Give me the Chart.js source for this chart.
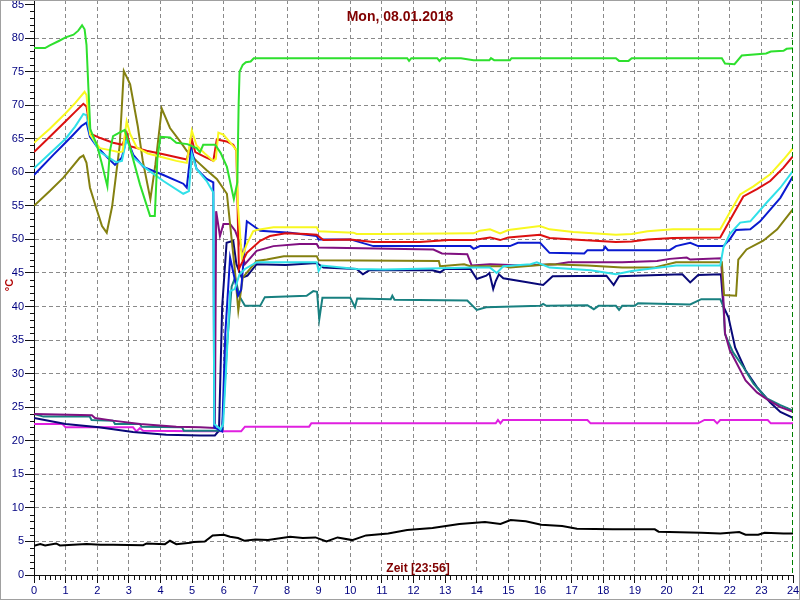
<!DOCTYPE html>
<html>
<head>
<meta charset="utf-8">
<script src="https://cdn.jsdelivr.net/npm/chart.js@4.4.1/dist/chart.umd.min.js"></script>
<style>
    html, body { margin: 0; padding: 0; background: #fff; }
</style>
</head>
<body>
<canvas id="tempChart" width="800" height="600"></canvas>
<script>
const chartTitle = 'Mon, 08.01.2018'
const xTitle = 'Zeit [23:56]'
const yTitle = '°C'
const hourTicks = [0, 1, 2, 3, 4, 5, 6, 7, 8, 9, 10, 11, 12, 13, 14, 15, 16, 17, 18, 19, 20, 21, 22, 23, 24]
const tempTicks = [0, 5, 10, 15, 20, 25, 30, 35, 40, 45, 50, 55, 60, 65, 70, 75, 80, 85]
const nowHour = 24

// [Stunde, °C]
const lime = [[0,78.5],[0.35,78.5],[0.5,78.9],[0.8,79.6],[1.0,80.1],[1.25,80.5],[1.4,81.1],[1.52,81.9],[1.6,81.3],[1.66,79],[1.72,72.6],[1.78,66.4],[1.98,64.2],[2.14,61.4],[2.32,57.9],[2.4,63.2],[2.5,65.4],[2.7,65.9],[2.87,66.3],[3.04,63.6],[3.35,58.2],[3.67,53.5],[3.82,53.5],[3.9,62],[4.0,65.3],[4.3,65.2],[4.5,64.4],[4.85,64.2],[5.14,63.6],[5.25,63],[5.35,64.1],[5.73,64.1],[5.9,62.9],[6.1,60.8],[6.32,56],[6.43,58.5],[6.47,70],[6.5,75],[6.6,76],[6.7,76.4],[6.85,76.5],[6.95,77],[11.8,77],[11.86,76.6],[11.93,77],[12.75,77],[12.82,76.6],[12.9,77],[13.5,77],[13.9,76.7],[14.4,76.7],[14.45,77],[14.55,76.7],[15.05,76.7],[15.1,77],[18.4,77],[18.5,76.6],[18.8,76.6],[18.9,77],[21.75,77],[21.85,76.2],[22.15,76.1],[22.38,77.4],[23.15,77.7],[23.3,78],[23.7,78.1],[23.8,78.4],[24,78.5]]
const yellow = [[0,64.4],[0.5,66.5],[1.0,68.8],[1.3,70.3],[1.6,72],[1.66,71.5],[1.78,65.6],[2.08,63.6],[2.4,63.3],[2.7,63],[2.8,63.1],[2.93,67.6],[3.04,65.7],[3.25,63.7],[3.6,62.8],[4.09,62.2],[4.5,61.7],[4.83,61.4],[4.99,66.2],[5.14,64],[5.4,62.8],[5.67,61.7],[5.75,62],[5.83,65.9],[5.99,65.6],[6.3,63.9],[6.4,63.3],[6.45,55],[6.57,47.3],[6.73,49.3],[6.93,51.2],[7.04,51.4],[7.57,51.8],[8.94,51.8],[9.0,51.2],[10.1,51],[10.2,50.8],[11.05,50.8],[13.9,50.9],[14.1,51.3],[14.42,51.5],[14.74,50.9],[15.0,51.4],[16.0,52],[16.3,51.5],[17.05,51.1],[18.4,50.7],[18.9,50.8],[19.4,51.2],[20.2,51.5],[21.7,51.5],[22.0,54],[22.33,56.7],[22.75,57.9],[23.28,59.7],[23.7,61.9],[24,63.6]]
const red = [[0,63],[0.5,65.3],[1.0,67.6],[1.3,69],[1.56,70.2],[1.66,69.8],[1.8,65.7],[2.1,65.1],[2.5,64.4],[2.8,64.1],[2.93,65.9],[3.04,63.9],[3.56,63.2],[4.09,62.7],[4.83,61.9],[4.99,64.9],[5.1,63],[5.4,62.3],[5.67,61.7],[5.78,64.9],[6.09,64.6],[6.3,64.1],[6.4,63.2],[6.45,52],[6.48,45.6],[6.73,48],[7.15,49.8],[7.46,50.5],[7.96,50.9],[8.6,50.8],[8.94,50.7],[9.15,49.9],[10.0,50],[10.73,49.6],[12.2,49.6],[13.1,49.9],[13.9,49.9],[14.42,50.3],[14.74,49.9],[15.0,50.3],[16.0,50.7],[16.3,50.2],[17.05,50],[18.4,49.6],[18.9,49.7],[19.4,50],[20.2,50.2],[21.7,50.3],[22.0,52.8],[22.43,56.4],[22.86,57.5],[23.28,58.7],[23.7,60.7],[24,62.4]]
const cyan = [[0,60.6],[0.5,62.8],[1.0,65],[1.3,66.8],[1.56,68.7],[1.66,68.5],[1.77,65.7],[2.09,63],[2.6,61.5],[2.78,61.7],[2.93,65.1],[3.14,62.2],[3.56,60.5],[4.09,58.7],[4.72,56.8],[4.9,57.2],[4.99,62.7],[5.14,60.5],[5.46,58.7],[5.67,57],[5.7,22.5],[5.9,21.7],[5.98,22.5],[6.1,33],[6.2,42.3],[6.35,42.6],[6.5,44.8],[6.67,45.6],[7.04,46.6],[8.94,46.6],[9.0,45.3],[9.1,46.1],[10.2,45.6],[11.1,45.5],[13.9,45.8],[14.42,45.8],[14.63,45],[14.84,46],[15.7,46.3],[15.9,46.6],[16.3,45.8],[17.6,45.4],[18.4,44.8],[18.9,45.3],[20.3,46.1],[21.7,46.1],[21.8,48.8],[22.0,50.8],[22.33,52.5],[22.65,52.7],[23.17,55.5],[23.6,57.7],[24,60.2]]
const blue = [[0,59.6],[0.61,62.6],[0.93,64.1],[1.24,65.6],[1.5,66.9],[1.66,67.4],[1.77,65.3],[1.98,63.9],[2.3,62.3],[2.56,61.1],[2.78,62.2],[2.93,65.1],[3.14,62.6],[3.46,60.8],[4.09,59.6],[4.72,58.3],[4.83,57.7],[4.97,63.6],[5.14,60.5],[5.46,59],[5.67,58.5],[5.7,22],[5.95,21.4],[6.05,36],[6.2,47.3],[6.36,43.8],[6.45,41.6],[6.55,42.5],[6.73,52.7],[6.94,52],[7.15,51.3],[8.1,51],[8.94,50.5],[9.0,50],[10.0,50],[10.73,49],[13.8,49],[13.9,48.6],[14.1,49],[15.05,49],[15.3,49.5],[16.0,49.5],[16.3,48],[17.4,47.9],[17.5,48.4],[18.0,48.4],[18.06,48.9],[18.15,48.4],[20.1,48.4],[20.3,49],[20.75,49.5],[21.0,49],[21.8,49],[22.0,50],[22.2,51.4],[22.65,51.5],[22.96,52.7],[23.6,56.2],[24,59.4]]
const olive = [[0,55],[0.5,57.2],[0.93,59.2],[1.45,62.2],[1.56,62.5],[1.66,61.4],[1.77,57.7],[1.98,54.5],[2.15,52],[2.3,51],[2.47,54.9],[2.71,64],[2.84,75.1],[3.04,73.1],[3.28,66.9],[3.44,61.7],[3.68,56],[3.84,61.2],[4.04,69.5],[4.3,66.6],[4.62,64.6],[4.83,63.2],[5.14,61.7],[5.46,60.3],[5.78,59],[6.1,56.8],[6.25,50],[6.35,45.5],[6.46,39.4],[6.6,44.3],[7.04,46.8],[7.36,47],[7.9,47.5],[8.94,47.5],[9.0,46.9],[12.8,46.8],[12.84,46],[13.6,46.3],[13.8,46],[14.9,46],[15.05,45.8],[16.3,46.3],[17.5,46.1],[18.6,45.8],[19.6,45.8],[20.3,46.6],[21.75,46.6],[21.82,41.7],[22.2,41.6],[22.27,47],[22.53,48.5],[23.06,49.8],[23.5,51.5],[24,54.5]]
const purple = [[0,24],[1.83,23.8],[1.93,23.4],[2.5,23],[3.35,22.5],[4.5,22.1],[5.25,22],[5.72,21.9],[5.76,54.2],[5.88,50.5],[5.99,52.3],[6.2,52.3],[6.36,51.3],[6.52,49.3],[6.67,46.3],[7.04,48.3],[7.57,49],[8.4,49.3],[8.94,49.3],[9.0,48.8],[12.63,48.5],[12.9,47.9],[13.7,47.8],[13.84,46.1],[14.42,46.3],[15.47,46.1],[16.5,46.3],[16.9,46.6],[18.6,46.6],[19.7,46.8],[20.1,47.1],[20.64,47.3],[20.75,47],[21.72,47.2],[21.78,42.9],[21.85,36],[22.0,33.5],[22.17,32],[22.5,29],[22.86,27.2],[23.17,26.2],[23.6,25],[24,24.3]]
const teal = [[0,24],[0.3,23.6],[1.76,23.6],[1.82,23.1],[2.5,23],[2.56,22.5],[3.35,22.5],[3.4,22.1],[4.68,22],[4.74,21.5],[5.95,21.5],[6.1,34],[6.25,43],[6.36,44.3],[6.5,41.5],[6.67,40.1],[7.15,40.1],[7.3,41.4],[8.62,41.6],[8.83,42.3],[8.95,42.2],[9.02,38.1],[9.12,41.3],[10.0,41.3],[10.15,39.9],[10.22,41.2],[11.28,41.1],[11.33,41.6],[11.4,41],[13.7,40.9],[14.0,39.5],[14.3,39.9],[16.0,40.1],[16.1,40.4],[16.2,40.1],[17.5,40.2],[17.7,39.6],[17.85,40.1],[18.4,40.1],[18.5,39.5],[18.6,40.1],[19.0,40.1],[19.1,40.5],[20.75,40.3],[21.1,41.1],[21.7,41.1],[21.8,40],[21.85,35.9],[22.1,33.2],[22.43,31],[22.75,28.5],[23.17,26.3],[23.6,25.3],[24,24.5]]
const navy = [[0,23.4],[1.0,22.5],[2.05,22],[3.13,21.3],[4.18,20.9],[5.25,20.8],[5.72,20.8],[5.85,21.5],[5.95,40],[6.09,49.5],[6.3,49.8],[6.4,46.3],[6.57,44.3],[6.75,44.6],[7.04,46.3],[7.96,46.2],[8.94,46.5],[9.15,45.8],[10.2,45.6],[10.4,44.8],[10.6,45.4],[12.6,45.4],[12.84,45.1],[13.0,45.6],[13.8,45.6],[14.0,44.1],[14.3,44.6],[14.4,45],[14.52,42.6],[14.6,43.8],[14.7,44.8],[14.84,44.2],[15.5,43.7],[16.1,43.2],[16.4,44.5],[18.1,44.6],[18.33,43.2],[18.5,44.5],[20.5,44.8],[20.75,43.6],[21.0,44.7],[21.72,44.8],[21.8,40],[21.96,38.4],[22.17,33.9],[22.5,30.5],[22.86,28],[23.28,25.7],[23.6,24.3],[24,23.4]]
const magenta = [[0,22.5],[0.9,22.5],[1.0,22],[3.13,22],[3.24,21.4],[3.35,21.9],[3.45,21.5],[5.25,21.4],[6.55,21.4],[6.67,22.1],[8.7,22.1],[8.77,22.6],[14.6,22.6],[14.67,23.1],[14.75,22.6],[14.83,23.1],[17.5,23.1],[17.6,22.6],[21.0,22.6],[21.2,23.1],[21.5,23.1],[21.6,22.6],[21.7,23.1],[23.2,23.1],[23.3,22.6],[24,22.6]]
const outside = [[0,4.35],[0.2,4.6],[0.35,4.4],[0.7,4.7],[0.82,4.4],[1.66,4.6],[2.1,4.5],[2.5,4.5],[3.45,4.45],[3.56,4.7],[4.14,4.6],[4.3,5.1],[4.5,4.6],[4.94,4.8],[5.05,4.9],[5.4,5],[5.65,5.9],[6.0,6],[6.2,5.7],[6.45,5.5],[6.65,5.1],[7.0,5.3],[7.4,5.2],[8.1,5.7],[8.5,5.5],[8.9,5.6],[9.25,5.0],[9.6,5.6],[10.06,5.2],[10.5,5.9],[11.2,6.2],[11.8,6.7],[12.6,7.0],[13.45,7.6],[14.26,7.9],[14.75,7.6],[15.07,8.2],[15.55,8],[16.04,7.5],[16.7,7.3],[17.17,6.9],[18.3,6.8],[19.63,6.8],[19.75,6.45],[21.1,6.3],[21.7,6.2],[22.3,6.4],[22.5,6.0],[22.9,6.0],[23.1,6.3],[23.7,6.2],[24,6.2]]

const series = [
    { label: 'Kessel', data: lime, color: '#2ee02e' },
    { label: 'Vorlauf 1', data: yellow, color: '#f8f820' },
    { label: 'Vorlauf 2', data: red, color: '#dc1010' },
    { label: 'Vorlauf 3', data: cyan, color: '#30e0e8' },
    { label: 'Vorlauf 4', data: blue, color: '#0a1ad0' },
    { label: 'Speicher', data: olive, color: '#848010' },
    { label: 'Ruecklauf 1', data: purple, color: '#801080' },
    { label: 'Ruecklauf 2', data: teal, color: '#188080' },
    { label: 'Ruecklauf 3', data: navy, color: '#080878' },
    { label: 'Raum', data: magenta, color: '#e020e0' },
    { label: 'Aussen', data: outside, color: '#000000' },
]

const tickFont = { family: '"Liberation Sans Narrow", "Liberation Sans", Arial, sans-serif', size: 11 }

const decor = {
    id: 'decor',
    afterDraw(chart) {
        const { ctx, chartArea, scales } = chart
        const x = scales.x
        const y = scales.y
        ctx.save()
        // minor ticks
        ctx.strokeStyle = '#101010'
        ctx.lineWidth = 1
        ctx.beginPath()
        hourTicks.slice(0, -1).forEach(h => {
            for (let k = 1; k < 6; k++) {
                const px = Math.round(x.getPixelForValue(h + k / 6)) + 0.5
                ctx.moveTo(px, chartArea.bottom)
                ctx.lineTo(px, chartArea.bottom + 5)
            }
        })
        tempTicks.slice(0, -1).forEach(t => {
            for (let k = 1; k < 5; k++) {
                const py = Math.round(y.getPixelForValue(t + k)) + 0.5
                ctx.moveTo(chartArea.left - 4, py)
                ctx.lineTo(chartArea.left, py)
            }
        })
        ctx.stroke()

        // current time marker
        const nx = Math.round(x.getPixelForValue(nowHour)) - 0.5
        ctx.strokeStyle = '#008000'
        ctx.setLineDash([5, 3])
        ctx.beginPath()
        ctx.moveTo(nx, chartArea.top)
        ctx.lineTo(nx, chartArea.bottom)
        ctx.stroke()
        ctx.setLineDash([])

        // texts
        ctx.fillStyle = '#800000'
        ctx.textAlign = 'center'
        ctx.textBaseline = 'middle'
        ctx.font = 'bold 14px "Liberation Sans Narrow", "Liberation Sans", Arial, sans-serif'
        ctx.fillText(chartTitle, 400, 17)
        ctx.font = 'bold 12px "Liberation Sans Narrow", "Liberation Sans", Arial, sans-serif'
        ctx.fillText(xTitle, 418, 569)
        ctx.save()
        ctx.translate(10, 285)
        ctx.rotate(-Math.PI / 2)
        ctx.fillStyle = '#b00000'
        ctx.font = 'bold 11px "Liberation Sans", Arial, sans-serif'
        ctx.fillText(yTitle, 0, 0)
        ctx.restore()

        // frame
        ctx.strokeStyle = '#a0a0a0'
        ctx.strokeRect(0.5, 0.5, 799, 599)
        ctx.restore()
    }
}

new Chart('tempChart', {
    type: 'line',
    data: {
        datasets: series.map(s => ({
            label: s.label,
            data: s.data.map(p => ({ x: p[0], y: p[1] })),
            borderColor: s.color,
            backgroundColor: s.color,
            borderWidth: 2,
            pointRadius: 0,
            tension: 0,
            fill: false,
        }))
    },
    options: {
        responsive: false,
        animation: false,
        devicePixelRatio: 1,
        layout: { padding: { left: 0, right: 7, top: 0, bottom: 0 } },
        plugins: {
            legend: { display: false },
            title: { display: false },
            tooltip: { enabled: false },
        },
        scales: {
            x: {
                type: 'linear',
                min: 0,
                max: 24,
                afterBuildTicks: s => { s.ticks = hourTicks.map(v => ({ value: v })) },
                afterFit: s => { s.height = 25; s.paddingLeft = 0; s.paddingRight = 0 },
                ticks: { color: '#000080', font: tickFont, padding: 1, maxRotation: 0, autoSkip: false },
                grid: {
                    color: c => (c.tick && c.tick.value > 0 && c.tick.value < 24) ? '#8a8a8a' : 'rgba(0,0,0,0)',
                    tickColor: '#101010',
                    tickLength: 8,
                    tickBorderDash: [],
                    lineWidth: 1,
                },
                border: { display: true, color: '#101010', width: 1, dash: [4, 3] },
            },
            y: {
                min: 0,
                max: 85.67,
                afterBuildTicks: s => { s.ticks = tempTicks.map(v => ({ value: v })) },
                afterFit: s => { s.width = 34; s.paddingTop = 0; s.paddingBottom = 0 },
                ticks: { color: '#000080', font: tickFont, padding: 1 },
                grid: {
                    color: c => (c.tick && c.tick.value > 0 && c.tick.value < 85) ? '#8a8a8a' : 'rgba(0,0,0,0)',
                    tickColor: '#101010',
                    tickLength: 9,
                    tickBorderDash: [],
                    lineWidth: 1,
                },
                border: { display: true, color: '#101010', width: 1, dash: [4, 3] },
            }
        }
    },
    plugins: [decor]
})
</script>
</body>
</html>
